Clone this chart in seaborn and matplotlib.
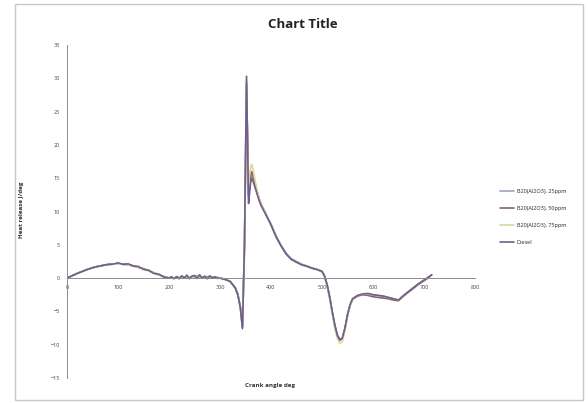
import matplotlib
matplotlib.use("Agg")
import matplotlib.pyplot as plt
import matplotlib.patches as mpatches
import pandas as pd
import seaborn as sns

# Crank angle (deg) sampling shared by all series
crank_angle = [
    0, 10, 20, 30, 40, 50, 60, 70, 80, 90,
    100, 110, 120, 130, 140, 150, 160, 170, 180, 190,
    200, 205, 210, 215, 220, 225, 230, 235, 240, 245,
    250, 255, 260, 265, 270, 275, 280, 285, 290, 295,
    300, 310, 320, 330, 335, 340, 344, 348, 352, 356,
    358, 360, 362, 365, 368, 372, 376, 380, 390, 400,
    410, 420, 430, 440, 450, 460, 470, 480, 490, 500,
    505, 510, 515, 520, 525, 530, 535, 540, 545, 550,
    555, 560, 570, 580, 590, 600, 610, 620, 630, 640,
    650, 660, 670, 680, 690, 700, 710, 715,
]

# Heat release (J/deg)
b20_25ppm = [
    0.0, 0.35, 0.7, 1.0, 1.3, 1.55, 1.75, 1.9, 2.0, 2.1,
    2.15, 2.1, 2.0, 1.85, 1.6, 1.4, 1.1, 0.8, 0.5, 0.25,
    0.05, 0.1, 0.0, 0.15, 0.05, 0.2, 0.1, 0.25, 0.05, 0.2,
    0.15, 0.3, 0.1, 0.2, 0.15, 0.25, 0.1, 0.15, 0.05, 0.1,
    0.0, -0.15, -0.5, -1.4, -2.4, -4.3, -7.3, 4.5, 29.5, 12.0,
    13.5, 14.8, 15.5, 15.0, 14.2, 13.0, 12.0, 11.1, 9.6, 8.1,
    6.3, 4.9, 3.7, 2.9, 2.5, 2.1, 1.8, 1.5, 1.3, 1.0,
    0.3, -1.0, -2.8, -5.0, -7.0, -8.5, -9.2, -9.0, -7.5, -5.5,
    -4.0, -3.1, -2.6, -2.4, -2.4, -2.5, -2.6, -2.7, -2.9, -3.1,
    -3.3, -2.6, -2.0, -1.4, -0.8, -0.3, 0.2, 0.5,
]

b20_50ppm = [
    0.0, 0.35, 0.7, 1.0, 1.3, 1.55, 1.75, 1.9, 2.05, 2.1,
    2.15, 2.1, 2.0, 1.85, 1.6, 1.4, 1.1, 0.8, 0.5, 0.2,
    0.0, 0.1, -0.05, 0.15, 0.0, 0.2, 0.05, 0.2, 0.0, 0.25,
    0.1, 0.25, 0.05, 0.2, 0.1, 0.2, 0.05, 0.1, 0.0, 0.1,
    0.0, -0.2, -0.5, -1.5, -2.5, -4.4, -7.4, 4.8, 29.0, 12.5,
    14.0, 15.4, 16.0, 15.4, 14.5, 13.2, 12.1, 11.2, 9.6, 8.0,
    6.2, 4.8, 3.6, 2.8, 2.4, 2.0, 1.8, 1.5, 1.3, 1.0,
    0.3, -1.0, -2.9, -5.1, -7.1, -8.6, -9.3, -9.1, -7.6, -5.6,
    -4.1, -3.2, -2.7, -2.5, -2.6, -2.8, -2.9, -3.0, -3.1, -3.3,
    -3.4, -2.7, -2.1, -1.5, -0.9, -0.4, 0.1, 0.5,
]

b20_75ppm = [
    0.0, 0.35, 0.7, 1.0, 1.3, 1.55, 1.75, 1.9, 2.0, 2.1,
    2.1, 2.05, 1.95, 1.8, 1.6, 1.35, 1.05, 0.8, 0.5, 0.2,
    0.0, 0.1, 0.0, 0.1, 0.0, 0.15, 0.05, 0.2, 0.05, 0.15,
    0.1, 0.2, 0.05, 0.15, 0.1, 0.15, 0.05, 0.1, 0.0, 0.05,
    0.0, -0.2, -0.5, -1.5, -2.5, -4.4, -7.2, 4.5, 29.0, 13.5,
    15.5, 16.6, 17.1, 16.2, 15.0, 13.5, 12.2, 11.2, 9.6, 8.0,
    6.2, 4.8, 3.6, 2.8, 2.4, 2.0, 1.8, 1.5, 1.3, 1.0,
    0.2, -1.2, -3.1, -5.4, -7.5, -9.0, -9.8, -9.5, -7.9, -5.8,
    -4.2, -3.2, -2.6, -2.4, -2.4, -2.5, -2.6, -2.7, -2.9, -3.1,
    -3.3, -2.6, -2.0, -1.4, -0.8, -0.3, 0.2, 0.5,
]

diesel = [
    0.0, 0.35, 0.7, 1.0, 1.3, 1.55, 1.75, 1.9, 2.05, 2.1,
    2.3, 2.05, 2.15, 1.8, 1.75, 1.3, 1.2, 0.7, 0.6, 0.15,
    0.0, 0.2, -0.1, 0.25, -0.1, 0.35, 0.0, 0.45, -0.1, 0.3,
    0.4, -0.05, 0.5, 0.0, 0.3, -0.1, 0.35, 0.0, 0.2, -0.05,
    0.0, -0.2, -0.5, -1.5, -2.5, -4.5, -7.6, 5.0, 30.3, 11.2,
    12.8, 14.3, 15.0, 14.5, 13.8, 12.8, 11.8, 11.0, 9.5, 8.0,
    6.2, 4.8, 3.6, 2.8, 2.4, 2.0, 1.8, 1.5, 1.3, 1.0,
    0.3, -1.0, -2.8, -5.0, -7.0, -8.6, -9.3, -9.0, -7.5, -5.5,
    -4.0, -3.1, -2.6, -2.4, -2.3, -2.5, -2.6, -2.7, -2.9, -3.1,
    -3.3, -2.6, -2.0, -1.4, -0.8, -0.3, 0.2, 0.5,
]

series_names = [
    "B20(Al2O3), 25ppm",
    "B20(Al2O3), 50ppm",
    "B20(Al2O3), 75ppm",
    "Diesel",
]
series_values = [b20_25ppm, b20_50ppm, b20_75ppm, diesel]
series_colors = ["#9aa6bb", "#8c6266", "#dcd79a", "#6e5f8e"]

x_ticks = [0, 100, 200, 300, 400, 500, 600, 700, 800]
y_ticks = [-15, -10, -5, 0, 5, 10, 15, 20, 25, 30, 35]

frames = [
    pd.DataFrame({"angle": crank_angle, "hr": vals, "series": name})
    for name, vals in zip(series_names, series_values)
]
data = pd.concat(frames, ignore_index=True)

sns.set_style("white")
plt.rcParams["font.family"] = ["Open Sans", "DejaVu Sans"]

fig = plt.figure(figsize=(5.88, 4.03), dpi=100)
ax = fig.add_axes([67 / 588, 1 - 378 / 403, (475 - 67) / 588, (378 - 45) / 403])

sns.lineplot(
    data=data, x="angle", y="hr", hue="series",
    hue_order=series_names, palette=series_colors,
    linewidth=1.2, ax=ax, sort=False, estimator=None,
)

ax.set_xlim(0, 800)
ax.set_ylim(-15, 35)
ax.set_xticks(x_ticks)
ax.set_yticks(y_ticks)
ax.tick_params(axis="both", labelsize=4, colors="#444444", length=2, width=0.6,
               direction="out", pad=3)

for side in ("top", "right"):
    ax.spines[side].set_visible(False)
ax.spines["bottom"].set_position(("data", 0))
ax.spines["left"].set_color("#8c8c8c")
ax.spines["bottom"].set_color("#8c8c8c")
ax.spines["left"].set_linewidth(0.7)
ax.spines["bottom"].set_linewidth(0.7)

ax.set_xlabel("")
ax.set_ylabel("")
fig.text(270 / 588, 1 - 385 / 403, "Crank angle deg", fontsize=4.5, fontweight="bold",
         ha="center", va="center", color="#333333")
fig.text(22 / 588, 1 - 210 / 403, "Heat release J/deg", fontsize=4.5, fontweight="bold",
         rotation=90, ha="center", va="center", color="#333333")
fig.text(303 / 588, 1 - 25 / 403, "Chart Title", fontsize=9.5, fontweight="bold",
         ha="center", va="center", color="#222222")

handles, labels = ax.get_legend_handles_labels()
ax.legend(handles, labels, loc="center left", bbox_to_anchor=(495 / 588, 1 - 217 / 403),
          bbox_transform=fig.transFigure, frameon=False, fontsize=4,
          handlelength=2.6, handletextpad=0.4, labelspacing=2.2)

fig.patches.append(mpatches.Rectangle(
    (15 / 588, 1 - 400 / 403), (583 - 15) / 588, (400 - 4) / 403,
    transform=fig.transFigure, fill=False, edgecolor="#c8c8c8", linewidth=1.0))

fig.savefig("out.png", dpi=100)
